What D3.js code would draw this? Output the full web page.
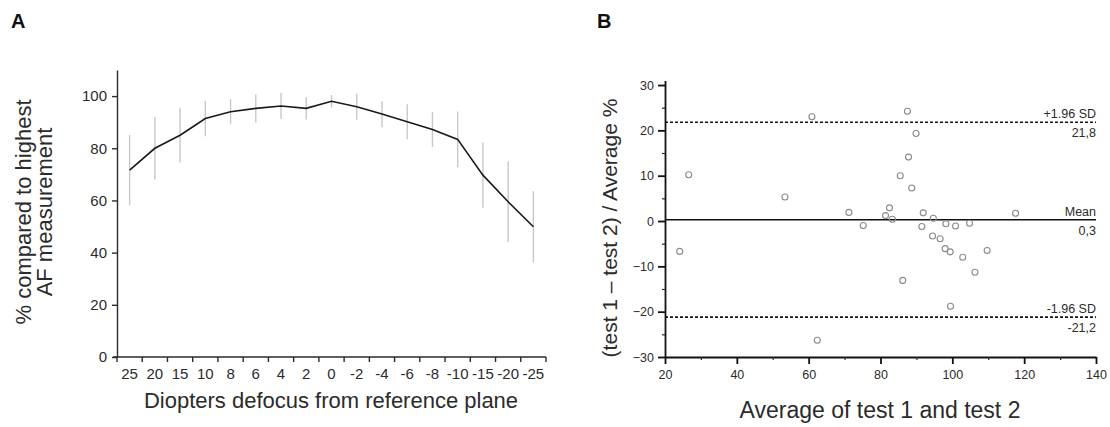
<!DOCTYPE html>
<html>
<head>
<meta charset="utf-8">
<script src="https://cdn.jsdelivr.net/npm/d3@7"></script>
<style>
  body { margin: 0; background: #fff; }
  svg { display: block; font-family: Arial, "Liberation Sans", sans-serif; }
</style>
</head>
<body>
<svg id="chart" width="1110" height="427"></svg>
<script>
// panel A: defocus curve
const defocus = ["25", "20", "15", "10", "8", "6", "4", "2", "0", "-2", "-4", "-6", "-8", "-10", "-15", "-20", "-25"];
const meanPct = [71.6, 80, 85, 91.4, 94, 95.3, 96.2, 95.3, 98, 95.9, 93.1, 90.2, 87.2, 83.4, 69.7, 59.5, 49.9];
const sdPct = [13.5, 12, 10.5, 6.8, 4.8, 5.4, 5, 4.3, 2.4, 5, 5, 6.7, 6.7, 10.7, 12.5, 15.5, 13.7];
const yTicksA = [0, 20, 40, 60, 80, 100];

// panel B: Bland-Altman
const avgTest = [24.1, 26.6, 53.4, 60.9, 62.4, 71.2, 75.2, 81.4, 82.5, 83.3, 85.5, 86.2, 87.5, 87.8, 88.7, 89.9,
  91.5, 91.9, 94.5, 94.7, 96.6, 98.0, 98.2, 99.4, 99.5, 100.9, 102.9, 104.8, 106.3, 109.7, 117.6];
const diffPct = [-6.7, 10.2, 5.3, 23.0, -26.3, 1.9, -1.0, 1.2, 2.9, 0.4, 10.0, -13.1, 24.2, 14.1, 7.3, 19.3,
  -1.2, 1.8, -3.3, 0.6, -3.9, -6.1, -0.6, -6.8, -18.8, -1.1, -8.0, -0.5, -11.3, -6.5, 1.7];
const limitLines = [
  { value: 21.8, top: "+1.96 SD", bottom: "21,8", dashed: true },
  { value: 0.3, top: "Mean", bottom: "0,3", dashed: false },
  { value: -21.2, top: "-1.96 SD", bottom: "-21,2", dashed: true }
];
const xTicksB = [20, 40, 60, 80, 100, 120, 140];
const xMinorB = [30, 50, 70, 90, 110, 130];
const yTicksB = [-30, -20, -10, 0, 10, 20, 30];
const yMinorB = [-25, -15, -5, 5, 15, 25];

const svg = d3.select("#chart");
const ink = "#2b2b2b";

// ---------- A ----------
svg.append("text").attr("x", 11).attr("y", 28).text("A")
  .attr("font-size", 20).attr("font-weight", "bold").attr("fill", "#111");

const xA = d3.scaleBand().domain(defocus).range([117, 546]).padding(0);
const yA = d3.scaleLinear().domain([0, 110]).range([357, 70]);
const gA = svg.append("g");

// error bars
gA.selectAll(".err").data(defocus).enter().append("line")
  .attr("x1", d => xA(d) + xA.bandwidth() / 2)
  .attr("x2", d => xA(d) + xA.bandwidth() / 2)
  .attr("y1", (d, i) => yA(meanPct[i] + sdPct[i]))
  .attr("y2", (d, i) => yA(meanPct[i] - sdPct[i]))
  .attr("stroke", "#c8c8c8").attr("stroke-width", 1.4);

const lineA = d3.line()
  .x((d, i) => xA(defocus[i]) + xA.bandwidth() / 2)
  .y(d => yA(d));
gA.append("path").datum(meanPct).attr("d", lineA)
  .attr("fill", "none").attr("stroke", "#1a1a1a").attr("stroke-width", 1.6);

// y axis
const yAxA = gA.append("g").attr("transform", "translate(117,0)")
  .call(d3.axisLeft(yA).tickValues(yTicksA).tickSize(5).tickSizeOuter(0).tickPadding(5));
// x axis: boundary ticks
const xAxA = gA.append("g");
xAxA.append("line").attr("x1", 113).attr("x2", xA.range()[1]).attr("y1", yA(0)).attr("y2", yA(0));
const bounds = defocus.map(d => xA(d)).concat([xA.range()[1]]);
xAxA.selectAll(".bt").data(bounds).enter().append("line")
  .attr("x1", d => d).attr("x2", d => d).attr("y1", yA(0)).attr("y2", yA(0) + 5);
xAxA.selectAll("line").attr("stroke", ink).attr("stroke-width", 1.4);
xAxA.selectAll(".tl").data(defocus).enter().append("text")
  .attr("x", d => xA(d) + xA.bandwidth() / 2).attr("y", 379)
  .attr("text-anchor", "middle").attr("font-size", 15).attr("fill", ink).text(d => d);

yAxA.select(".domain").attr("stroke", ink).attr("stroke-width", 1.4);
yAxA.selectAll(".tick line").attr("stroke", ink).attr("stroke-width", 1.4);
yAxA.selectAll(".tick text").attr("font-size", 15).attr("fill", ink).attr("font-family", null);

gA.append("text").attr("x", 331).attr("y", 408).attr("text-anchor", "middle")
  .attr("font-size", 22).attr("fill", ink).text("Diopters defocus from reference plane");
const yLabA = gA.append("text").attr("transform", "translate(0,212) rotate(-90)")
  .attr("text-anchor", "middle").attr("font-size", 22).attr("fill", ink);
yLabA.append("tspan").attr("x", 0).attr("y", 31).text("% compared to highest");
yLabA.append("tspan").attr("x", 0).attr("y", 52).text("AF measurement");

// ---------- B ----------
svg.append("text").attr("x", 597).attr("y", 28).text("B")
  .attr("font-size", 20).attr("font-weight", "bold").attr("fill", "#111");

const xB = d3.scaleLinear().domain([20, 140]).range([665, 1096]);
const yB = d3.scaleLinear().domain([-30, 31]).range([357, 80.5]);
const gB = svg.append("g");

// limit lines
limitLines.forEach(l => {
  gB.append("line").attr("x1", xB(20)).attr("x2", xB(140))
    .attr("y1", yB(l.value)).attr("y2", yB(l.value))
    .attr("stroke", "#111").attr("stroke-width", l.dashed ? 1.6 : 1.5)
    .attr("stroke-dasharray", l.dashed ? "3,2" : null);
  gB.append("text").attr("x", xB(140)).attr("y", yB(l.value) - 4)
    .attr("text-anchor", "end").attr("font-size", 12.5).attr("fill", ink).text(l.top);
  gB.append("text").attr("x", xB(140)).attr("y", yB(l.value) + 15)
    .attr("text-anchor", "end").attr("font-size", 12.5).attr("fill", ink).text(l.bottom);
});

gB.selectAll(".pt").data(avgTest).enter().append("circle")
  .attr("cx", d => xB(d)).attr("cy", (d, i) => yB(diffPct[i])).attr("r", 3)
  .attr("fill", "none").attr("stroke", "#8a8a8a").attr("stroke-width", 1.1);

const xAxB = gB.append("g").attr("transform", `translate(0,${yB(-30)})`)
  .call(d3.axisBottom(xB).tickValues(xTicksB).tickSize(7).tickSizeOuter(0).tickPadding(6));
gB.append("g").attr("transform", `translate(0,${yB(-30)})`)
  .call(d3.axisBottom(xB).tickValues(xMinorB).tickSize(3).tickFormat(""))
  .call(g => g.select(".domain").remove())
  .selectAll("line").attr("stroke", ink).attr("stroke-width", 1.2);
const yAxB = gB.append("g").attr("transform", `translate(${xB(20)},0)`)
  .call(d3.axisLeft(yB).tickValues(yTicksB).tickSize(7).tickSizeOuter(0).tickPadding(4));
gB.append("g").attr("transform", `translate(${xB(20)},0)`)
  .call(d3.axisLeft(yB).tickValues(yMinorB).tickSize(3).tickFormat(""))
  .call(g => g.select(".domain").remove())
  .selectAll("line").attr("stroke", ink).attr("stroke-width", 1.2);

[xAxB, yAxB].forEach(ax => {
  ax.select(".domain").attr("stroke", "#111").attr("stroke-width", 1.8);
  ax.selectAll(".tick line").attr("stroke", "#111").attr("stroke-width", 1.8);
  ax.selectAll(".tick text").attr("font-size", 12.5).attr("fill", ink).attr("font-family", null);
});

gB.append("text").attr("x", 880).attr("y", 418).attr("text-anchor", "middle")
  .attr("font-size", 23).attr("fill", ink).text("Average of test 1 and test 2");
gB.append("text").attr("transform", "translate(617,228) rotate(-90)")
  .attr("text-anchor", "middle").attr("font-size", 21).attr("fill", ink)
  .text("(test 1 \u2013 test 2) / Average %");
</script>
</body>
</html>
